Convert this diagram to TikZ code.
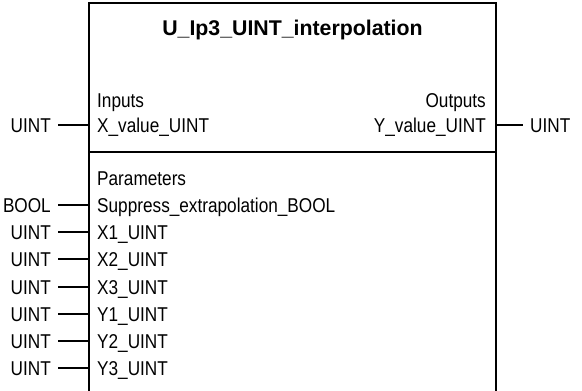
\documentclass[tikz,border=0pt]{standalone}
\usepackage{fontspec}
\setmainfont{Liberation Sans}[FakeStretch=0.86]
\newfontfamily\titlefont{Liberation Sans}[FakeStretch=1.0]
\begin{document}
\begin{tikzpicture}[x=1pt,y=-1pt,
  lbl/.style={inner sep=0pt,font=\fontsize{20}{24}\selectfont},
  ttl/.style={inner sep=0pt,font=\titlefont\bfseries\fontsize{21.3}{25}\selectfont},
  boxline/.style={line width=2.6pt},
  pin/.style={line width=2pt}]
\useasboundingbox (0,0) rectangle (582,391);
% frame
\coordinate (tl) at (89,3);
\coordinate (tr) at (496,3);
\coordinate (bl) at (89,392);
\coordinate (br) at (496,392);
\coordinate (dl) at (89,152);
\coordinate (dr) at (496,152);
\draw[boxline] (bl) -- (tl) -- (tr) -- (br);
\draw[boxline] (dl) -- (dr);
\node[ttl] (title) at (292.5,30) {U\_Ip3\_UINT\_interpolation};
% inputs / outputs
\node[lbl,anchor=base west] (inputs) at (97,107) {Inputs};
\node[lbl,anchor=base east] (outputs) at (486,107) {Outputs};
\node[lbl,anchor=base west] (xv) at (97,132) {X\_value\_UINT};
\node[lbl,anchor=base east] (yv) at (486,132) {Y\_value\_UINT};
\coordinate (xvp) at (89,125);
\coordinate (yvp) at (496,125);
\node[lbl,anchor=base east] (xvt) at (51,132) {UINT};
\node[lbl,anchor=base west] (yvt) at (530,132) {UINT};
\draw[pin] (xvp) -- (58,125);
\draw[pin] (yvp) -- (523,125);
% parameters
\node[lbl,anchor=base west] (params) at (97,185) {Parameters};
\foreach \n/\t/\y [count=\i] in {Suppress\_extrapolation\_BOOL/BOOL/205,
   X1\_UINT/UINT/232, X2\_UINT/UINT/259, X3\_UINT/UINT/287,
   Y1\_UINT/UINT/314, Y2\_UINT/UINT/341, Y3\_UINT/UINT/368}{
  \node[lbl,anchor=base west] (p\i) at (97,\y+7) {\n};
  \node[lbl,anchor=base east] (t\i) at (51,\y+7) {\t};
  \coordinate (c\i) at (89,\y);
  \draw[pin] (c\i) -- (58,\y);
}
\end{tikzpicture}
\end{document}
